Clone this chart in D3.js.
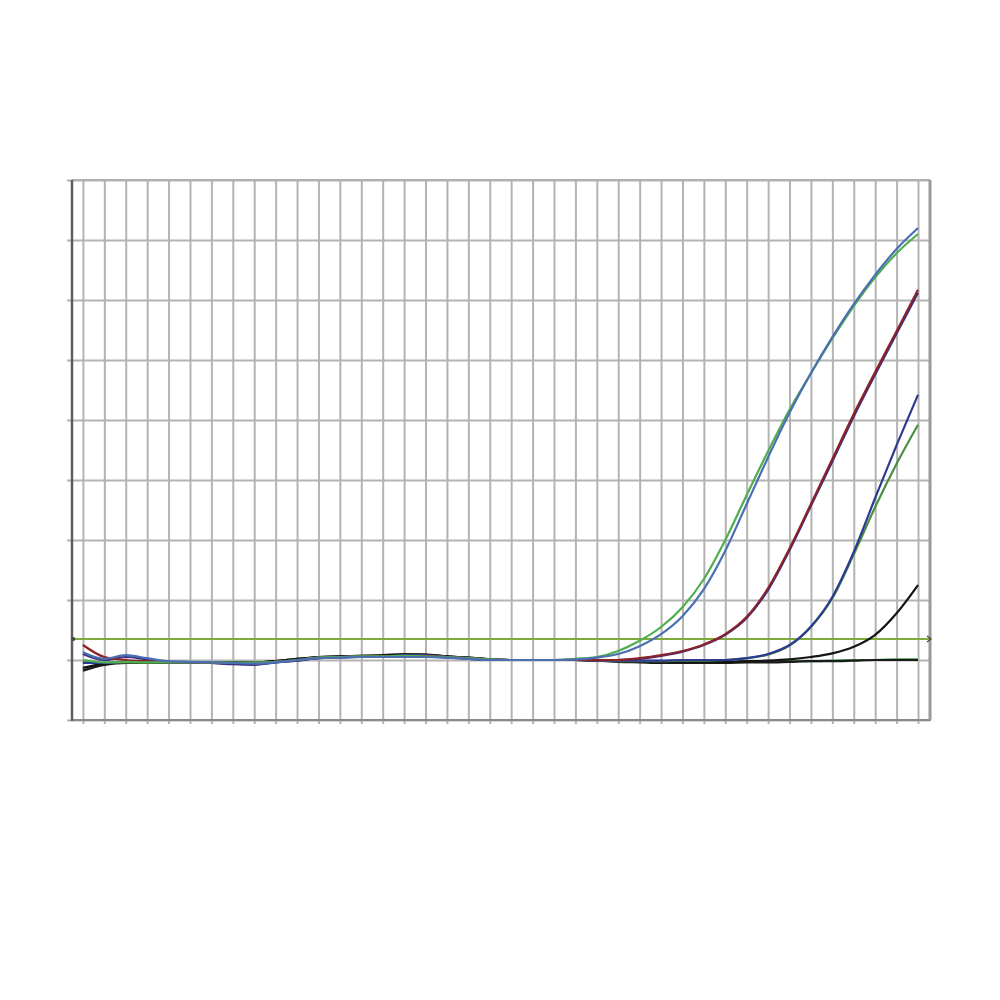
<!DOCTYPE html>
<html>
<head>
<meta charset="utf-8">
<script src="https://cdn.jsdelivr.net/npm/d3@7"></script>
<style>
  html, body { margin: 0; padding: 0; background: #ffffff; }
  svg { display: block; }
</style>
</head>
<body>
<svg id="chart" width="1000" height="1000"></svg>
<script>
// ---- data ----
const cycles = d3.range(1, 41);
const yTicks = [-1, 0, 1, 2, 3, 4, 5, 6, 7, 8];
const threshold = 0.35;

const greenEarly = [0.00,-0.04,-0.03,-0.04,-0.04,-0.04,-0.04,-0.05,-0.04,-0.03,0.00,0.04,0.05,0.06,0.06,0.07,0.06,0.05,0.03,0.01,0.00,0.00,0.00,0.02,0.05,0.15,0.32,0.55,0.88,1.35,2.00,2.75,3.48,4.17,4.78,5.36,5.90,6.38,6.78,7.10];
const blueEarly  = [0.13,0.02,0.08,0.03,-0.02,-0.03,-0.04,-0.05,-0.06,-0.04,0.00,0.03,0.04,0.05,0.05,0.05,0.05,0.04,0.02,0.00,0.00,0.00,0.00,0.01,0.04,0.10,0.23,0.43,0.73,1.18,1.82,2.60,3.38,4.12,4.78,5.38,5.93,6.42,6.85,7.20];
const redMid     = [0.25,0.05,0.00,-0.02,-0.04,-0.04,-0.05,-0.05,-0.05,-0.03,0.00,0.04,0.05,0.06,0.06,0.07,0.07,0.05,0.03,0.01,0.00,0.00,0.00,0.00,0.00,0.00,0.03,0.08,0.15,0.26,0.43,0.72,1.20,1.86,2.60,3.35,4.10,4.80,5.48,6.17];
const purpleMid  = [0.10,0.00,0.05,0.01,-0.03,-0.04,-0.05,-0.07,-0.08,-0.04,-0.01,0.03,0.04,0.05,0.05,0.06,0.06,0.04,0.02,0.00,0.00,0.00,0.00,0.00,-0.01,0.00,0.02,0.07,0.14,0.25,0.42,0.70,1.17,1.83,2.57,3.31,4.06,4.76,5.44,6.12];
const navyLate   = [-0.05,-0.05,-0.03,-0.03,-0.04,-0.04,-0.05,-0.06,-0.07,-0.04,-0.01,0.03,0.05,0.06,0.06,0.08,0.08,0.05,0.03,0.01,0.00,0.00,0.00,0.00,0.00,-0.01,-0.01,-0.01,0.00,0.00,0.00,0.03,0.10,0.25,0.56,1.05,1.80,2.70,3.58,4.42];
const greenLate  = [-0.02,-0.05,-0.04,-0.04,-0.04,-0.04,-0.04,-0.04,-0.05,-0.03,0.00,0.04,0.05,0.06,0.06,0.07,0.07,0.05,0.03,0.01,0.00,0.00,0.00,0.00,-0.01,-0.02,-0.02,-0.02,-0.01,-0.01,0.00,0.03,0.09,0.24,0.55,1.03,1.76,2.55,3.27,3.92];
const blackLate  = [-0.13,-0.06,-0.04,-0.04,-0.04,-0.04,-0.04,-0.04,-0.04,-0.02,0.02,0.05,0.06,0.07,0.07,0.09,0.09,0.06,0.04,0.01,0.00,0.00,0.00,0.00,-0.01,-0.02,-0.03,-0.03,-0.03,-0.03,-0.03,-0.02,-0.01,0.01,0.05,0.11,0.22,0.42,0.78,1.25];
const greenFlat  = [-0.15,-0.07,-0.05,-0.05,-0.04,-0.04,-0.04,-0.04,-0.04,-0.02,0.01,0.04,0.05,0.06,0.06,0.07,0.06,0.05,0.03,0.01,0.00,0.00,0.00,0.00,-0.01,-0.02,-0.03,-0.03,-0.03,-0.04,-0.04,-0.03,-0.03,-0.02,-0.02,-0.01,0.00,0.00,0.01,0.01];
const blackFlat  = [-0.18,-0.08,-0.05,-0.05,-0.05,-0.04,-0.04,-0.04,-0.04,-0.02,0.02,0.05,0.06,0.07,0.08,0.10,0.09,0.06,0.04,0.01,0.00,0.00,0.00,0.00,-0.01,-0.03,-0.04,-0.05,-0.05,-0.05,-0.05,-0.04,-0.04,-0.03,-0.02,-0.02,-0.01,0.00,0.00,0.00];

const seriesNames  = ["greenFlat","blackFlat","blackLate","greenLate","navyLate","purpleMid","redMid","greenEarly","blueEarly"];
const seriesValues = [greenFlat, blackFlat, blackLate, greenLate, navyLate, purpleMid, redMid, greenEarly, blueEarly];
const seriesColors = ["#3f9a45","#1a1a1a","#141414","#4a8f44","#2c3a92","#3b2f86","#8c2226","#4fae4f","#4c6fb3"];

// ---- layout ----
const svg = d3.select("#chart");
const plot = { left: 72, right: 930, top: 180, bottom: 720 };

const x = d3.scaleLinear().domain([0.49, 40.56]).range([plot.left, plot.right]);
const y = d3.scaleLinear().domain([-1, 8]).range([plot.bottom, plot.top]);

// horizontal grid (via axis)
const gy = svg.append("g")
  .attr("transform", `translate(${plot.right},0)`)
  .call(d3.axisLeft(y).tickValues(yTicks).tickSize(plot.right - plot.left + 5).tickFormat(""));
gy.select(".domain").remove();
gy.selectAll(".tick line").attr("stroke", "#b3b3b3").attr("stroke-width", 2);

// vertical grid (via axis)
const gx = svg.append("g")
  .attr("transform", `translate(0,${plot.top})`)
  .call(d3.axisBottom(x).tickValues(cycles).tickSize(plot.bottom - plot.top + 4).tickFormat(""));
gx.select(".domain").remove();
gx.selectAll(".tick line").attr("stroke", "#b3b3b3").attr("stroke-width", 2);

// frame
svg.append("line").attr("x1", plot.left).attr("x2", plot.right).attr("y1", plot.top).attr("y2", plot.top)
  .attr("stroke", "#b0b0b0").attr("stroke-width", 2);
svg.append("line").attr("x1", plot.left).attr("x2", plot.right + 1).attr("y1", plot.bottom).attr("y2", plot.bottom)
  .attr("stroke", "#8a8a8a").attr("stroke-width", 2);
svg.append("line").attr("x1", plot.right).attr("x2", plot.right).attr("y1", plot.top).attr("y2", plot.bottom)
  .attr("stroke", "#9a9a9a").attr("stroke-width", 3);
svg.append("line").attr("x1", plot.left).attr("x2", plot.left).attr("y1", plot.top).attr("y2", plot.bottom + 1)
  .attr("stroke", "#5e5e5e").attr("stroke-width", 2.5);

// threshold
svg.append("line")
  .attr("x1", x(0.55)).attr("x2", plot.right)
  .attr("y1", y(threshold)).attr("y2", y(threshold))
  .attr("stroke", "#7eab3c").attr("stroke-width", 2);
svg.append("circle").attr("cx", x(0.55)).attr("cy", y(threshold)).attr("r", 2).attr("fill", "#444");
svg.append("path")
  .attr("d", `M${plot.right - 3},${y(threshold) - 3} L${plot.right + 1},${y(threshold)} L${plot.right - 3},${y(threshold) + 3}`)
  .attr("fill", "none").attr("stroke", "#444").attr("stroke-width", 1.2);

// curves
const line = d3.line()
  .x((d, i) => x(cycles[i]))
  .y(d => y(d))
  .curve(d3.curveMonotoneX);

svg.append("g").selectAll("path")
  .data(seriesValues)
  .join("path")
  .attr("d", d => line(d))
  .attr("fill", "none")
  .attr("stroke", (d, i) => seriesColors[i])
  .attr("stroke-width", 2.2)
  .attr("stroke-linejoin", "round")
  .attr("data-name", (d, i) => seriesNames[i]);
</script>
</body>
</html>
